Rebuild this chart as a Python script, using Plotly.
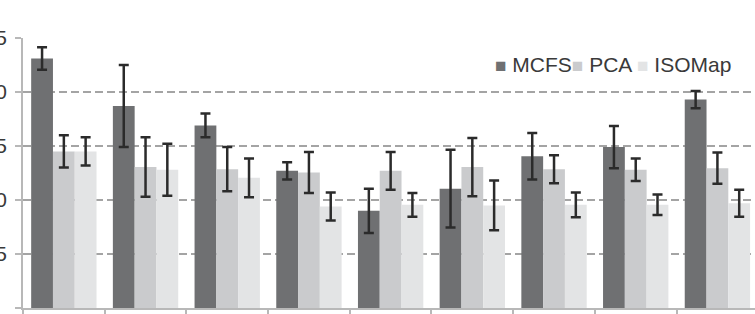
import plotly.graph_objects as go

categories = ["1", "2", "3", "4", "5", "6", "7", "8", "9"]
series_names = ["MCFS", "PCA", "ISOMap"]
mcfs = [23.1, 18.7, 16.9, 12.7, 9.0, 11.05, 14.05, 14.9, 19.3]
mcfs_err = [1.05, 3.8, 1.1, 0.8, 2.05, 3.6, 2.15, 1.95, 0.8]
pca = [14.5, 13.05, 12.85, 12.55, 12.7, 13.05, 12.85, 12.8, 12.95]
pca_err = [1.5, 2.75, 2.05, 1.9, 1.75, 2.7, 1.3, 1.05, 1.45]
iso = [14.5, 12.8, 12.05, 9.4, 9.55, 9.5, 9.55, 9.55, 9.7]
iso_err = [1.3, 2.4, 1.8, 1.3, 1.1, 2.3, 1.15, 0.95, 1.25]
y_ticks = [0, 5, 10, 15, 20, 25]

colors = ["#6f7072", "#cacbcd", "#e3e4e5"]
values = [mcfs, pca, iso]
errors = [mcfs_err, pca_err, iso_err]

fig = go.Figure()
for name, v, e, c in zip(series_names, values, errors, colors):
    fig.add_trace(go.Bar(
        x=categories, y=v, name=name,
        marker=dict(color=c, line=dict(width=0)),
        error_y=dict(type="data", array=e, visible=True,
                     color="#2b2b2b", thickness=2.5, width=5),
        showlegend=False,
    ))

sq = "<span style='color:{c};font-size:19px'>■</span>"
legend_text = (sq.format(c=colors[0]) + " " + series_names[0]
               + sq.format(c=colors[1]) + " " + series_names[1] + " "
               + sq.format(c=colors[2]) + " " + series_names[2])

fig.add_annotation(
    text=legend_text, xref="paper", yref="paper",
    x=(493 - 23) / 732, y=(308 - 64) / 270, xanchor="left", yanchor="middle",
    showarrow=False, font=dict(family="Liberation Sans, Arial", size=21, color="#3a3a3a"),
)

fig.update_layout(
    width=755, height=314,
    margin=dict(l=23, r=0, t=38, b=6, autoexpand=False),
    paper_bgcolor="white", plot_bgcolor="white",
    barmode="group", bargap=0.2, bargroupgap=0,
    font=dict(family="Liberation Sans, Arial", size=21, color="#3a3a3a"),
    xaxis=dict(
        range=[-0.5, 8.46], showticklabels=False, automargin=False,
        showline=True, linecolor="#b8b8b8", linewidth=2,
        ticks="outside", ticklen=6, tickcolor="#b8b8b8", tickwidth=2,
        tickson="boundaries", showgrid=False, zeroline=False,
    ),
    yaxis=dict(
        range=[0, 25], tickvals=y_ticks, automargin=False,
        showline=True, linecolor="#b8b8b8", linewidth=2,
        ticks="outside", ticklen=6, tickcolor="#b8b8b8", tickwidth=2,
        showgrid=True, gridcolor="#a4a4a4", gridwidth=2, griddash="8px,4px",
        zeroline=False, ticklabelstandoff=4,
        tickfont=dict(size=21, color="#3a3a3a"),
    ),
)

fig.write_html("out.html")
